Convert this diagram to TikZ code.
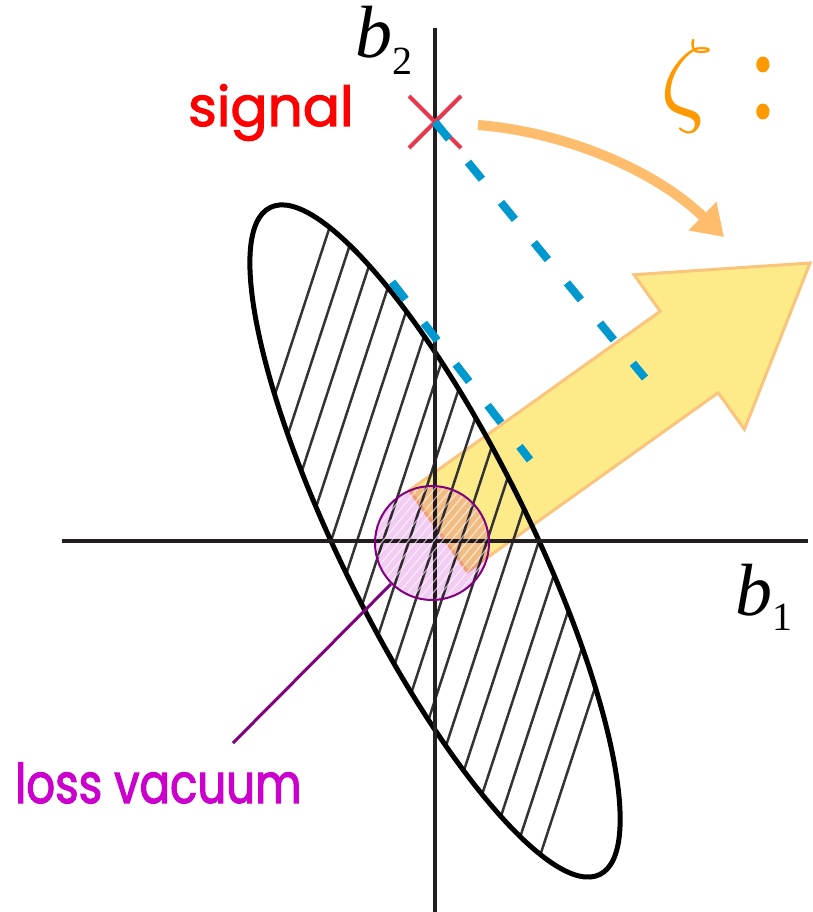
\documentclass[tikz,border=0pt]{standalone}
\usepackage{fontspec}
\usepackage{graphicx}
\usetikzlibrary{arrows.meta,positioning,shapes.misc}
\newfontfamily\handfont[FakeStretch=0.82,FakeBold=2]{Poppins}
\newfontfamily\widehandfont[FakeBold=2]{Poppins}
\newfontfamily\timesfont{Liberation Serif}
\definecolor{axisblack}{HTML}{231F20}
\definecolor{crossred}{HTML}{E5394E}
\definecolor{signalred}{HTML}{FF0000}
\definecolor{projblue}{HTML}{0099CF}
\definecolor{swingorange}{HTML}{FDBD6C}
\definecolor{zetaorange}{HTML}{FF9900}
\definecolor{beamyellow}{HTML}{FDEB8A}
\definecolor{beamedge}{HTML}{FBC47C}
\definecolor{vacpink}{HTML}{F2CCF2}
\definecolor{vacpurple}{HTML}{800080}
\definecolor{lossmagenta}{HTML}{CC00CC}

\begin{document}
\begin{tikzpicture}[x=1pt,y=-1pt,>=Stealth,
  axisline/.style={draw=axisblack,line width=4pt},
  hatchline/.style={draw=black!80,line width=2.5pt},
  projline/.style={draw=projblue,line width=8pt,dash pattern=on 22pt off 30pt},
  handtext/.style={inner sep=0pt,font=\handfont\fontsize{55}{55}\selectfont},
  axislabel/.style={inner sep=0pt,anchor=base west,font=\timesfont\fontsize{74}{74}\selectfont}]
\useasboundingbox[fill=white] (0,0) rectangle (812,912);
\coordinate (O) at (435,541);
% displaced beam
\draw[fill=beamyellow,draw=beamedge,line width=3pt,line join=miter]
  (409.5,490.3) -- (660.2,311.3) -- (634,274.7) -- (810,263) -- (744.4,429.3) -- (718.2,392.7) -- (467.5,571.7) -- cycle;
% squeezed noise ellipse
\begin{scope}
  \clip[rotate around={-63.7:(O)}] (O) ellipse [x radius=372pt,y radius=94pt];
  \foreach \i [evaluate=\i as \x using 435+26*\i] in {-8,...,8}
    \draw[hatchline] (\x-140,969) -- (\x+140,113);
\end{scope}
\draw[line width=5pt,rotate around={-63.7:(O)}] (O) ellipse [x radius=372pt,y radius=94pt];
% axes
\draw[axisline] (62,541) -- (808,541);
\draw[axisline] (435,28) -- (435,912);
\node[axislabel] (b1) at (735,615) {\itshape b\raisebox{-15pt}{\upshape\fontsize{40}{40}\selectfont 1}};
\node[axislabel] (b2) at (355,58) {\itshape b\raisebox{-17pt}{\upshape\fontsize{40}{40}\selectfont 2}};
% signal and its projections
\node[cross out,draw=crossred,line width=4pt,minimum size=48pt,inner sep=0pt] (sig) at (435,122) {};
\node[handtext,text=signalred,anchor=base west,font=\widehandfont\fontsize{55}{55}\selectfont] (signal) at (188,126) {signal};
\coordinate (proj1) at (645,378);
\coordinate (tangent) at (392,282);
\coordinate (proj2) at (530,460);
\draw[projline] (sig.center) -- (proj1);
\draw[projline] (tangent) -- (proj2);
% rotation by zeta
\coordinate (swingstart) at (478,125);
\coordinate (swingend) at (724,237);
\draw[swingorange,line width=10pt,-{Triangle[length=30pt,width=38pt]}] (swingstart) .. controls (565,132) and (655,170) .. (swingend);
\node[text=zetaorange,inner sep=0pt] (zeta) at (687,86) {\scalebox{10.5}{$\zeta$}};
\node[handtext,text=zetaorange,font=\handfont\fontsize{110}{110}\selectfont] (colon) at (763,88) {:};
% loss vacuum
\coordinate (vc) at (432,543);
\begin{scope}[blend mode=multiply]
  \fill[vacpink] (vc) circle (57pt);
\end{scope}
\begin{scope}
  \clip (vc) circle (57pt);
  \foreach \k [evaluate=\k as \x using 432+8.5*\k] in {-14,...,14}
    \draw[white,line width=1.2pt,opacity=.6] (\x-50,603) -- (\x+50,483);
\end{scope}
\node[circle,draw=vacpurple,line width=2pt,minimum size=114pt,inner sep=0pt] (vac) at (vc) {};
\coordinate (lead) at (233,743);
\draw[vacpurple,line width=3pt] (vac.225) -- (lead);
\node[handtext,text=lossmagenta,anchor=base west] (loss) at (15,803) {loss vacuum};
\end{tikzpicture}
\end{document}
